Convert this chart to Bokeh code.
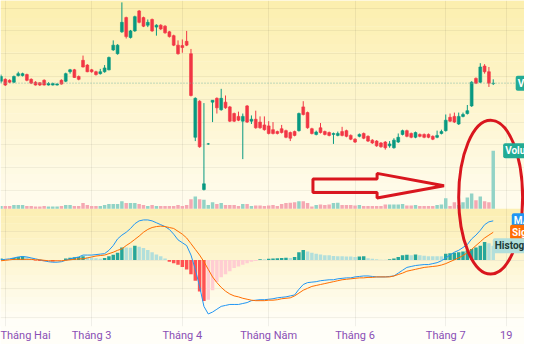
import numpy as np
from bokeh.plotting import figure
from bokeh.models import (Range1d, FixedTicker, Grid, BoxAnnotation, Label, Span,
                          ColumnDataSource)
from bokeh.embed import file_html
from bokeh.resources import INLINE

# ---------------- data (daily candles, price in thousand VND) ----------------
open_ = [31.5,31.7,31.6,31.4,32.1,32.1,32.2,31.7,31.4,31.35, 31.6,31.1,31.1,31.1,31.6,31.5,32.5,32.7,32.0,33.7,
         33.2,32.7,32.5,32.3,32.5,32.7,34.8,34.4,36.7,38.2, 36.1,36.8,38.9,38.2,37.4,38.0,37.2,37.4,37.3,36.7,
         36.3,35.3,35.25,35.7,34.4,25.6,29.4,20.1,24.9,29.3, 29.7,28.5,29.3,28.8,28.1,27.8,27.3,28.9,27.3,27.5,
         27.2,26.9,26.8,26.4,26.2,26.5,26.3,26.1,26.2,26.3, 28.8,28.2,26.5,25.9,26.6,26.2,26.1,25.9,25.8,26.2,
         26.3,25.8,25.4,25.7,26.0,25.7,25.3,25.2,25.0,25.1, 24.7,24.5,25.1,25.9,26.3,26.0,25.6,25.9,25.9,25.9,
         25.7,25.6,26.0,26.3,27.7,27.8,27.0,27.8,28.1,28.9, 31.8,31.4,33.1,32.5,31.25]
high = [32.2,31.8,31.7,32.1,32.5,32.4,32.3,31.8,31.5,31.4, 31.7,31.4,31.35,31.3,31.7,32.4,32.8,32.8,32.1,34.2,
        33.3,32.8,32.6,32.8,33.2,34.1,35.8,35.4,39.8,38.3, 36.9,38.4,39.0,38.3,38.0,38.1,37.5,37.5,37.4,36.8,
        36.4,35.8,35.9,36.8,34.9,29.8,29.5,29.2,25.0,29.5, 29.8,30.7,30.0,28.9,28.2,28.3,28.1,29.0,27.9,28.4,
        27.8,27.8,27.3,27.2,26.3,26.9,26.4,26.2,26.3,28.2, 29.4,28.3,26.6,26.3,27.1,26.3,26.2,26.1,26.2,26.7,
        26.4,25.9,25.5,26.0,26.1,25.8,25.4,25.3,25.1,25.2, 25.2,25.5,26.0,26.4,26.4,26.1,26.2,26.0,26.0,26.0,
        25.8,26.3,26.4,28.0,28.1,28.2,28.2,28.2,29.0,31.5, 31.9,33.4,33.3,33.0,31.7]
low = [31.3,31.0,31.3,31.3,32.0,32.0,31.5,31.2,31.05,31.0, 31.05,31.05,31.05,31.05,31.15,31.4,32.3,31.85,31.6,32.95,
       32.45,32.4,32.1,32.2,32.4,32.65,34.7,34.3,36.6,36.0, 36.0,36.7,37.6,37.2,37.2,36.7,36.3,36.9,36.5,36.1,
       35.2,34.3,34.5,35.2,29.9,25.2,24.5,20.0,24.8,27.2, 28.1,28.4,28.6,27.2,27.2,27.3,23.3,27.1,27.0,26.5,
       26.5,26.3,25.9,25.9,25.9,26.0,25.5,25.2,25.7,26.2, 27.9,26.5,25.9,25.8,26.0,25.8,25.7,24.9,25.7,25.7,
       25.6,25.3,25.0,25.6,25.4,25.1,24.9,24.6,24.5,24.3, 24.5,24.4,25.0,25.8,25.6,25.5,25.5,25.6,25.5,25.5,
       25.3,25.5,25.9,26.2,27.2,27.1,26.9,27.7,28.0,28.8, 31.2,31.3,32.3,30.9,31.1]
close = [32.0,31.1,31.4,32.0,32.3,32.3,31.6,31.3,31.1,31.1, 31.1,31.25,31.25,31.2,31.2,32.3,32.7,31.9,31.7,33.0,
         32.5,32.5,32.2,32.5,32.9,34.0,35.3,35.3,37.7,36.2, 36.8,38.3,37.7,37.3,37.7,36.8,37.4,37.0,36.6,36.2,
         35.3,34.4,35.05,35.3,30.0,29.7,24.6,20.7,24.9,29.5, 28.7,29.7,28.7,27.3,27.3,27.4,27.8,27.2,27.5,26.6,
         26.6,26.4,26.0,26.0,26.0,26.1,25.6,25.5,25.8,28.1, 28.0,26.6,26.0,26.15,26.1,25.9,25.8,26.0,26.0,25.8,
         25.7,25.4,25.1,25.9,25.5,25.2,25.0,24.7,24.6,24.5, 24.9,25.3,25.6,26.3,25.7,25.6,26.1,25.7,25.6,25.6,
         25.4,25.8,26.2,27.4,27.3,27.2,27.8,28.0,28.4,31.4, 31.3,33.0,32.5,31.3,31.3]
# volume, millions of shares
volume = [0.3,0.3,0.3,0.4,0.4,0.4,0.3,0.3,0.25,0.25, 0.3,0.25,0.25,0.25,0.3,0.4,0.4,0.3,0.3,0.6,
          0.4,0.3,0.3,0.3,0.4,0.5,0.5,0.5,0.8,0.6, 0.6,0.6,0.5,0.4,0.3,0.4,0.3,0.3,0.3,0.3,
          0.3,0.4,0.3,0.4,1.0,1.3,1.0,0.95,0.4,0.7, 0.5,0.6,0.4,0.4,0.4,0.3,0.5,0.5,0.3,0.35,
          0.35,0.3,0.35,0.4,0.3,0.5,0.6,0.65,0.7,0.8, 0.8,0.6,0.25,0.4,0.45,0.4,0.45,0.6,0.65,0.4,
          0.4,0.4,0.35,0.4,0.3,0.3,0.3,0.3,0.3,0.45, 0.45,0.45,0.45,0.5,0.35,0.35,0.4,0.3,0.3,0.3,
          0.3,0.4,0.45,1.1,0.3,0.7,0.4,0.7,1.2,1.6, 0.9,1.3,0.8,0.7,6.1]
macd = [0.03,0.08,0.13,0.23,0.33,0.38,0.33,0.23,0.13,0.03, -0.07,-0.17,-0.22,-0.22,-0.17,-0.02,0.13,0.23,0.33,0.53,
        0.53,0.53,0.58,0.63,0.68,1.03,1.53,2.23,2.63,2.93, 3.33,3.83,4.13,4.23,4.23,4.13,3.93,3.73,3.53,3.23,
        2.73,2.13,1.83,1.53,0.53,-0.97,-2.77,-4.87,-5.67,-5.47, -5.17,-4.87,-4.77,-4.67,-4.67,-4.67,-4.57,-4.47,-4.27,-4.22,
        -4.17,-4.17,-4.12,-4.07,-3.97,-3.92,-3.87,-3.77,-3.67,-3.07, -2.57,-2.37,-2.32,-2.27,-2.17,-2.12,-2.07,-2.07,-1.97,-1.92,
        -1.87,-1.87,-1.77,-1.72,-1.67,-1.67,-1.72,-1.77,-1.77,-1.77, -1.72,-1.67,-1.37,-1.07,-0.77,-0.67,-0.57,-0.52,-0.47,-0.47,
        -0.37,-0.27,-0.07,0.23,0.53,0.83,1.03,1.33,1.63,2.23, 2.63,3.13,3.73,4.03,4.13]
signal = [-0.07,-0.02,0.03,0.08,0.08,0.08,0.08,0.08,0.03,0.03, -0.02,-0.07,-0.07,-0.07,-0.07,-0.02,0.03,0.08,0.13,0.13,
          0.23,0.33,0.43,0.48,0.53,0.68,0.83,1.03,1.18,1.53, 1.83,2.18,2.53,2.93,3.23,3.43,3.53,3.58,3.53,3.43,
          3.33,3.03,2.73,2.33,1.73,1.13,0.53,-0.17,-0.97,-1.77, -2.37,-2.87,-3.27,-3.57,-3.77,-3.87,-4.02,-4.12,-4.22,-4.27,
          -4.27,-4.27,-4.22,-4.22,-4.17,-4.07,-4.02,-3.97,-3.77,-3.47, -3.17,-2.97,-2.77,-2.67,-2.57,-2.47,-2.37,-2.27,-2.17,-2.07,
          -2.02,-1.97,-1.92,-1.87,-1.87,-1.82,-1.82,-1.77,-1.77,-1.77, -1.77,-1.67,-1.52,-1.37,-1.17,-1.07,-0.97,-0.87,-0.77,-0.72,
          -0.67,-0.62,-0.52,-0.37,-0.17,0.03,0.23,0.48,0.78,1.13, 1.53,1.93,2.33,2.63,2.93]
histogram = [0.17,0.05,0.05,0.23,0.33,0.4,0.33,0.17,-0.05,-0.1, -0.13,-0.13,-0.15,-0.1,-0.05,0.17,0.25,0.3,0.33,0.4,
             0.33,0.27,0.2,0.15,0.23,0.4,0.57,0.77,1.33,1.33, 1.3,1.5,1.4,1.27,1.07,0.83,0.6,0.4,0.17,-0.17,
             -0.33,-0.5,-0.73,-1.0,-1.5,-2.17,-3.3,-4.3,-4.17,-3.17, -2.3,-1.8,-1.5,-1.17,-0.83,-0.67,-0.5,-0.33,-0.17,-0.1,
             0.1,0.1,0.13,0.17,0.2,0.23,0.25,0.23,0.33,0.83, 1.07,0.9,0.77,0.67,0.6,0.5,0.5,0.43,0.4,0.4,
             0.37,0.37,0.33,0.38,0.4,0.2,0.15,0.1,0.05,0.03, 0.1,0.17,0.33,0.5,0.57,0.5,0.6,0.5,0.45,0.4,
             0.4,0.4,0.4,0.67,0.73,0.77,0.83,0.9,1.0,1.17, 1.33,1.5,1.9,1.77,1.5]
month_ticks = [1, 21, 42, 62, 82, 103, 117]
month_labels = ["Tháng Hai", "Tháng 3", "Tháng 4", "Tháng Năm", "Tháng 6", "Tháng 7", "19"]
# hand-drawn red annotations (index / price units)
arrow_x = [72.25, 87.1, 87.1, 102.6, 87.1, 87.1, 72.25]
arrow_y = [21.2, 21.2, 21.8, 20.5, 19.2, 19.8, 19.8]
ellipse_x, ellipse_y, ellipse_w, ellipse_h = 113.4, 19.3, 14.8, 16.2

# ---------------- styling ----------------
UP, DOWN = "#089981", "#f23645"
VOL_UP, VOL_DOWN = "#92d3c6", "#f5a8b2"
FONT = "Roboto"

n = len(close)
idx = np.arange(n)
up = [c >= o for o, c in zip(open_, close)]
col = [UP if u else DOWN for u in up]
vcol = [VOL_UP if u else VOL_DOWN for u in up]
hcol = []
for k, h in enumerate(histogram):
    prev = histogram[k - 1] if k else 0
    if h >= 0:
        hcol.append("#26a69a" if h > prev else "#b2dfdb")
    else:
        hcol.append("#ff5252" if h < prev else "#ffcdd2")

src = ColumnDataSource(dict(x=idx, o=open_, h=high, l=low, c=close, v=volume, col=col, vcol=vcol,
                            top=np.maximum(open_, close), bot=np.minimum(open_, close),
                            m=macd, s=signal, hist=histogram, hcol=hcol))

p = figure(width=524, height=344, output_backend="svg", toolbar_location=None,
           x_range=Range1d(-0.11, 121.24), y_range=Range1d(5.68, 40.0),
           y_axis_location=None, min_border_left=0, min_border_right=0,
           min_border_top=0, min_border_bottom=16)
p.extra_y_ranges = {"vol": Range1d(-12.39, 21.93), "macd": Range1d(-6.99, 27.33)}
p.outline_line_color = None
p.border_fill_color = "#fffef8"
p.background_fill_color = "#fffdf2"
p.grid.visible = False


def hexrgb(h):
    return np.array([int(h[i:i + 2], 16) for i in (1, 3, 5)], dtype=float)


def bands(top, bottom, c_top, c_bot, nb, rng):
    a, b = hexrgb(c_top), hexrgb(c_bot)
    step = (top - bottom) / nb
    for k in range(nb):
        t = (k + 0.5) / nb
        c = a + (b - a) * t
        colr = "#%02x%02x%02x" % tuple(int(round(v)) for v in c)
        p.add_layout(BoxAnnotation(top=top - k * step + step * 0.02, bottom=top - (k + 1) * step - step * 0.02,
                                   fill_color=colr, fill_alpha=1, line_color=None,
                                   level="image", y_range_name=rng))


# price panel (top -> volume baseline) and MACD panel backgrounds
bands(40.0, 18.05, "#fcefae", "#fffcef", 24, "default")
bands(5.38, -6.99, "#fcefb2", "#fffefa", 16, "macd")

# grids
vgrid = Grid(dimension=0, ticker=FixedTicker(ticks=month_ticks), grid_line_color="#000000",
             grid_line_alpha=0.06, level="underlay")
pgrid = Grid(dimension=1, ticker=FixedTicker(ticks=list(np.arange(20.0, 39.3, 2.4))),
             grid_line_color="#000000", grid_line_alpha=0.05, level="underlay")
mgrid = Grid(dimension=1, ticker=FixedTicker(ticks=[3.0, 0.0, -3.0, -6.0]), y_range_name="macd",
             grid_line_color="#000000", grid_line_alpha=0.05, level="underlay")
for g in (vgrid, pgrid, mgrid):
    p.add_layout(g, "center")

# volume
p.vbar(x="x", top="v", bottom=0, width=0.8, source=src, fill_color="vcol", line_color=None,
       y_range_name="vol")
# candles
p.segment(x0="x", y0="h", x1="x", y1="l", source=src, line_color="col", line_width=1)
p.vbar(x="x", top="top", bottom="bot", width=0.66, source=src, fill_color="col", line_color="col",
       line_width=0.6)
# last price line
p.add_layout(Span(location=close[-1], dimension="width", line_color="#7fb8a6", line_dash="1 2",
                  line_width=1))

# MACD
p.vbar(x="x", top="hist", bottom=0, width=0.8, source=src, fill_color="hcol", line_color=None,
       y_range_name="macd")
p.line("x", "m", source=src, line_color="#2196f3", line_width=1, y_range_name="macd")
p.line("x", "s", source=src, line_color="#ff6d00", line_width=1, y_range_name="macd")

# annotations
p.patch(arrow_x, arrow_y, fill_alpha=0, line_color="#d9161e", line_width=3)
p.ellipse(x=[ellipse_x], y=[ellipse_y], width=ellipse_w, height=ellipse_h, fill_alpha=0,
          line_color="#d9161e", line_width=3)

# right-side value labels
def tag(x, y, text, bg, fg, rng="default"):
    p.add_layout(Label(x=x, y=y, y_range_name=rng, text=text, text_color=fg, text_font=FONT,
                       text_font_size="10px", text_font_style="bold", text_baseline="middle",
                       background_fill_color=bg, background_fill_alpha=1, padding=2,
                       border_radius=2))

tag(119.2, close[-1], "V", "#22ab94", "white")
tag(116.3, volume[-1], "Volume", "#22ab94", "white", "vol")
tag(118.3, macd[-1], "MACD", "#2196f3", "white", "macd")
tag(117.9, signal[-1], "Signal", "#ff6d00", "white", "macd")
tag(113.9, histogram[-1], "Histogram", "#b2dfdb", "#1d3b37", "macd")

# x axis
ax = p.xaxis[0]
ax.ticker = FixedTicker(ticks=month_ticks)
ax.major_label_overrides = {t: l for t, l in zip(month_ticks, month_labels)}
ax.axis_label = None
ax.axis_label_standoff = 0
ax.axis_line_color = None
ax.major_tick_line_color = None
ax.minor_tick_line_color = None
ax.major_tick_out = 0
ax.major_tick_in = 0
ax.minor_tick_out = 0
ax.minor_tick_in = 0
ax.major_label_standoff = 2
ax.major_label_text_color = "#8a4fb5"
ax.major_label_text_font = FONT
ax.major_label_text_font_size = "11px"

open("out.html", "w").write(file_html(p, INLINE))
